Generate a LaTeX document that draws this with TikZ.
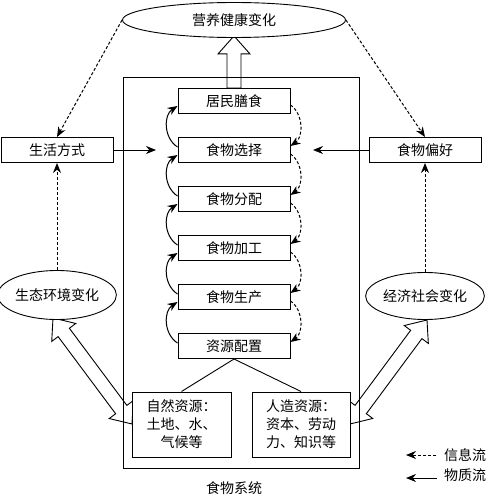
\documentclass[tikz,border=0pt]{standalone}
\usepackage{fontspec}
\setmainfont{Noto Sans CJK SC}
\usetikzlibrary{arrows.meta,calc,shapes.geometric,backgrounds}
\newcommand{\dblhollow}[5]{% #1 A, #2 B, #3 shaft half, #4 head half, #5 head length
  \draw[hol] (#1) -- ($(#1)!#5!(#2)!#4!90:(#2)$) -- ($(#1)!#5!(#2)!#3!90:(#2)$)
   -- ($(#2)!#5!(#1)!#3!-90:(#1)$) -- ($(#2)!#5!(#1)!#4!-90:(#1)$) -- (#2)
   -- ($(#2)!#5!(#1)!#4!90:(#1)$) -- ($(#2)!#5!(#1)!#3!90:(#1)$)
   -- ($(#1)!#5!(#2)!#3!-90:(#2)$) -- ($(#1)!#5!(#2)!#4!-90:(#2)$) -- cycle;}
\begin{document}
\begin{tikzpicture}[x=1pt,y=-1pt,
  every node/.style={font=\fontsize{14}{18}\selectfont},
  box/.style={draw,line width=1pt,minimum width=112pt,minimum height=25pt,inner sep=0pt,fill=white},
  ell/.style={draw,ellipse,line width=0.9pt,inner sep=0pt,fill=white},
  sarr/.style={line width=1pt,-{Stealth[length=10pt,width=8pt]}},
  darr/.style={line width=1pt,dash pattern=on 3pt off 2pt,-{Stealth[length=10pt,width=8pt]}},
  hol/.style={draw,line width=0.9pt,fill=white,line join=miter}]
\useasboundingbox (0,0) rectangle (488,500);
% system frame
\node[draw,line width=1pt,minimum width=236pt,minimum height=390pt,inner sep=0pt] (sys) at (241,273) {};
\node (syslabel) at (234,488) {食物系统};
% top ellipse
\node[ell,minimum width=223pt,minimum height=35pt] (health) at (234,20) {营养健康变化};
% stages
\node[box] (s1) at (234,101) {居民膳食};
\node[box] (s2) at (234,150) {食物选择};
\node[box] (s3) at (234,199) {食物分配};
\node[box] (s4) at (234,248) {食物加工};
\node[box] (s5) at (234,297) {食物生产};
\node[box] (s6) at (234,346) {资源配置};
% side boxes
\node[box] (life) at (57,150) {生活方式};
\node[box] (pref) at (425,150) {食物偏好};
\node[ell,minimum width=105pt,minimum height=49pt] (eco) at (57,295) {生态环境变化};
\node[ell,minimum width=101pt,minimum height=47pt] (soc) at (425,296) {经济社会变化};
% resources
\node[box,minimum width=99pt,minimum height=65pt,align=center] (nat) at (181.5,424.5) {自然资源：\\土地、水、\\气候等};
\node[box,minimum width=98pt,minimum height=65pt,align=center] (man) at (301,424.5) {人造资源：\\资本、劳动\\力、知识等};
% hollow arrows (background)
\coordinate (eA) at (53,318);
\coordinate (eB) at (132,424);
\coordinate (sA) at (427,320);
\coordinate (sB) at (350,424);
\begin{scope}[on background layer]
\draw[hol] ($(s1.north)+(-7,0)$) -- ($(health.south)+(-7,16)$) -- ($(health.south)+(-16,16)$)
  -- ($(health.south)+(0,-2)$) -- ($(health.south)+(16,16)$) -- ($(health.south)+(7,16)$)
  -- ($(s1.north)+(7,0)$) -- cycle;
\dblhollow{eA}{eB}{7pt}{15pt}{18pt}
\dblhollow{sA}{sB}{7pt}{15pt}{18pt}
\end{scope}
% resource links
\draw[line width=0.9pt] (s6.south) -- (nat.north);
\draw[line width=0.9pt] (s6.south) -- (man.north);
% side arrows
\coordinate (la) at (156,150);
\coordinate (ra) at (313,150);
\draw[sarr] (life.east) -- (la);
\draw[sarr] (pref.west) -- (ra);
\draw[darr] (health.west) -- (life.north);
\draw[darr] (health.east) -- (pref.north);
\draw[darr] (eco.north) -- (life.south);
\draw[darr] (soc.north) -- (pref.south);
% upward solid curves (left)
\foreach \lo/\up in {s2/s1,s3/s2,s4/s3,s5/s4,s6/s5}{
  \draw[sarr] ($(\lo.west)+(0,-3)$) .. controls ($(\lo.west)+(-14,-12)$) and ($(\up.west)+(-14,14)$) .. ($(\up.west)+(0,5)$);
}
% downward dashed curves (right)
\foreach \up/\lo in {s1/s2,s2/s3,s3/s4,s4/s5,s5/s6}{
  \draw[darr] ($(\up.east)+(0,4)$) .. controls ($(\up.east)+(13,13)$) and ($(\lo.east)+(13,-13)$) .. ($(\lo.east)+(0,-4)$);
}
% legend
\coordinate (l1s) at (436,455);
\coordinate (l1e) at (406,455);
\coordinate (l2s) at (437,478);
\coordinate (l2e) at (406,478);
\draw[darr] (l1s) -- (l1e);
\draw[sarr] (l2s) -- (l2e);
\node[anchor=west,inner sep=0pt] (lg1) at (444,455) {信息流};
\node[anchor=west,inner sep=0pt] (lg2) at (444,475) {物质流};
\end{tikzpicture}
\end{document}
